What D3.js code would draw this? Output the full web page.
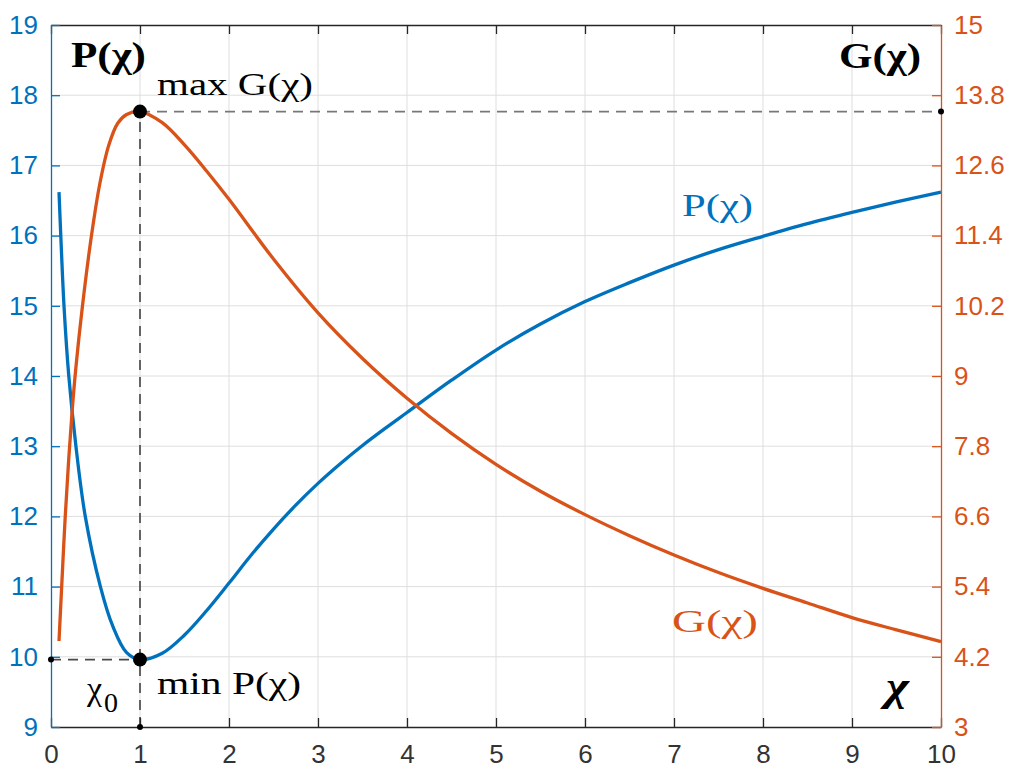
<!DOCTYPE html>
<html><head><meta charset="utf-8">
<script src="https://cdn.jsdelivr.net/npm/d3@7/dist/d3.min.js"></script>
<style>body{margin:0;background:#fff}</style>
</head><body>
<svg id="c" width="1009" height="769"></svg>
<script>
// ---- data ----
const pChi = [0.09, 0.11, 0.146, 0.20, 0.28, 0.385, 0.555, 0.69, 0.85, 1.0, 1.25, 1.5, 1.75, 2.0, 2.25, 2.5, 2.75, 3.0, 3.25, 3.5, 3.75, 4.0, 4.5, 5.0, 5.5, 6.0, 6.5, 7.0, 7.5, 8.0, 8.5, 9.0, 9.5, 10.0];
const pVal = [16.62, 16.0, 15.0, 14.0, 13.0, 12.0, 11.0, 10.45, 10.06, 9.96, 10.05, 10.31, 10.66, 11.05, 11.45, 11.82, 12.16, 12.47, 12.75, 13.01, 13.25, 13.48, 13.94, 14.37, 14.74, 15.06, 15.33, 15.58, 15.8, 15.99, 16.17, 16.33, 16.48, 16.62];
const gChi = [0.09, 0.12, 0.16, 0.2, 0.24, 0.28, 0.35, 0.45, 0.55, 0.65, 0.75, 0.85, 1.0, 1.25, 1.5, 1.75, 2.0, 2.5, 3.0, 3.5, 4.0, 4.5, 5.0, 5.5, 6.0, 6.5, 7.0, 7.5, 8.0, 8.5, 9.0, 9.5, 10.0];
const gVal = [4.47, 5.4, 6.6, 7.6, 8.45, 9.15, 10.15, 11.35, 12.3, 12.95, 13.32, 13.47, 13.52, 13.33, 12.95, 12.5, 12.02, 11.0, 10.08, 9.3, 8.62, 8.02, 7.49, 7.03, 6.63, 6.27, 5.94, 5.64, 5.37, 5.12, 4.87, 4.66, 4.46];
const xTicks = [0,1,2,3,4,5,6,7,8,9,10];
const leftTicks = [9,10,11,12,13,14,15,16,17,18,19];
const rightTicks = [3,4.2,5.4,6.6,7.8,9,10.2,11.4,12.6,13.8,15];
const rightTickLabels = ["3","4.2","5.4","6.6","7.8","9","10.2","11.4","12.6","13.8","15"];
const chi0 = 1, pMin = 9.96, gMax = 13.52;

// ---- layout ----
const L = 51, R = 941, T = 25, B = 727;
const blue = "#0072BD", orange = "#D95319", dark = "#262626";
const sans = "'Liberation Sans', Arial, Helvetica, sans-serif";
const serif = "'Liberation Serif', 'Times New Roman', serif";

const svg = d3.select("#c");
const x = d3.scaleLinear().domain([0,10]).range([L,R]);
const yL = d3.scaleLinear().domain([9,19]).range([B,T]);
const yR = d3.scaleLinear().domain([3,15]).range([B,T]);

// grid
const grid = svg.append("g").attr("stroke","#dedede").attr("stroke-width",1);
grid.selectAll("line.v").data(xTicks.slice(1,-1)).join("line")
  .attr("x1",d=>x(d)).attr("x2",d=>x(d)).attr("y1",T).attr("y2",B);
grid.selectAll("line.h").data(leftTicks.slice(1,-1)).join("line")
  .attr("x1",L).attr("x2",R).attr("y1",d=>yL(d)).attr("y2",d=>yL(d));

// dashed guide lines
const dash = svg.append("g").attr("fill","none").attr("stroke-width",1.8).attr("stroke-dasharray","10,7");
dash.append("line").attr("stroke","#4a4a4a").attr("x1",x(0)).attr("x2",x(chi0)).attr("y1",yL(pMin)).attr("y2",yL(pMin));
dash.append("line").attr("stroke","#555").attr("x1",x(chi0)).attr("x2",x(chi0)).attr("y1",yL(9)).attr("y2",yR(gMax));
dash.append("line").attr("stroke","#777").attr("x1",x(chi0)).attr("x2",x(10)).attr("y1",yR(gMax)).attr("y2",yR(gMax));

// curves
const pData = pChi.map((c,i)=>[c,pVal[i]]);
const gData = gChi.map((c,i)=>[c,gVal[i]]);
svg.append("path").datum(pData).attr("fill","none").attr("stroke",blue).attr("stroke-width",3.3)
  .attr("d", d3.line().x(d=>x(d[0])).y(d=>yL(d[1])).curve(d3.curveCatmullRom.alpha(0.5)));
svg.append("path").datum(gData).attr("fill","none").attr("stroke",orange).attr("stroke-width",3.3)
  .attr("d", d3.line().x(d=>x(d[0])).y(d=>yR(d[1])).curve(d3.curveCatmullRom.alpha(0.5)));

// axes
const fontSize = 26;
const ax = svg.append("g").attr("transform",`translate(0,${B})`)
  .call(d3.axisBottom(x).tickValues(xTicks).tickFormat(d3.format("d")).tickSizeInner(-9).tickSizeOuter(0).tickPadding(18));
const axT = svg.append("g").attr("transform",`translate(0,${T})`)
  .call(d3.axisTop(x).tickValues(xTicks).tickFormat("").tickSizeInner(-9).tickSizeOuter(0));
const ayL = svg.append("g").attr("transform",`translate(${L},0)`)
  .call(d3.axisLeft(yL).tickValues(leftTicks).tickFormat(d3.format("d")).tickSizeInner(-9).tickSizeOuter(0).tickPadding(13));
const ayR = svg.append("g").attr("transform",`translate(${R},0)`)
  .call(d3.axisRight(yR).tickValues(rightTicks).tickFormat((d,i)=>rightTickLabels[i]).tickSizeInner(-9).tickSizeOuter(0).tickPadding(13));
[[ax,dark],[axT,dark],[ayL,blue],[ayR,orange]].forEach(([g,c])=>{
  g.selectAll("path.domain").attr("stroke",c).attr("stroke-width",1.3);
  g.selectAll(".tick line").attr("stroke",c).attr("stroke-width",1.3);
  g.selectAll(".tick text").attr("fill",c).style("font-family",sans).style("font-size",fontSize+"px");
});
ax.selectAll(".tick text").attr("fill","#333");

// markers
svg.append("circle").attr("cx",x(chi0)).attr("cy",yL(pMin)).attr("r",7).attr("fill","#000");
svg.append("circle").attr("cx",x(chi0)).attr("cy",yR(gMax)).attr("r",7).attr("fill","#000");
svg.append("circle").attr("cx",x(0)).attr("cy",yL(pMin)).attr("r",3).attr("fill","#000");
svg.append("circle").attr("cx",x(chi0)).attr("cy",yL(9)).attr("r",3).attr("fill","#000");
svg.append("circle").attr("cx",x(10)).attr("cy",yR(gMax)).attr("r",3).attr("fill","#000");

// labels
function label(txt, px, py, opts={}){
  const t = svg.append("text").attr("x",px).attr("y",py)
    .style("font-family",serif).style("font-size",(opts.size||32)+"px")
    .attr("fill",opts.fill||"#000").attr("text-anchor",opts.anchor||"start");
  if(opts.bold) t.style("font-weight","bold");
  if(opts.italic) t.style("font-style","italic");
  if(opts.len) t.attr("textLength",opts.len).attr("lengthAdjust","spacingAndGlyphs");
  t.text(txt);
  return t;
}
label("P(χ)", 71, 67, {bold:true, size:36, len:75});
label("G(χ)", 839, 68, {bold:true, size:36, len:82});
label("max G(χ)", 157, 95, {size:32, len:156});
label("min P(χ)", 157, 694, {size:32, len:144});
label("P(χ)", 682, 216, {size:32, fill:blue, len:71});
label("G(χ)", 672, 632, {size:32, fill:orange, len:86});
label("χ", 886, 700, {bold:true, italic:true, size:40, len:23});
const c0 = label("χ", 87, 700, {size:34});
c0.append("tspan").attr("dy",12).attr("dx",2).style("font-size","28px").text("0");
</script>
</body></html>
